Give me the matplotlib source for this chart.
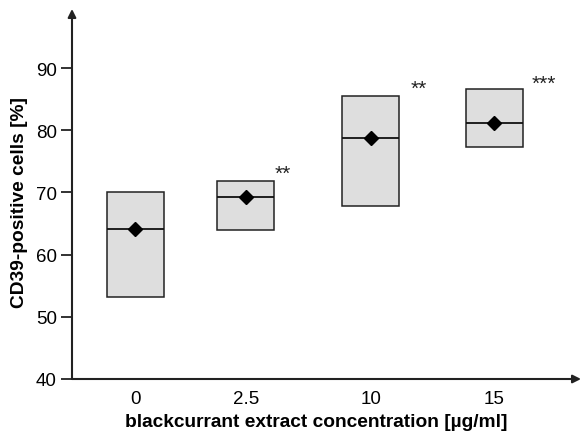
import matplotlib
matplotlib.use("Agg")
import matplotlib.pyplot as plt

plt.rcParams['font.family'] = ['Liberation Sans', 'DejaVu Sans']

categories = ["0", "2.5", "10", "15"]
q1 = [53.2, 63.9, 67.8, 77.3]
q3 = [70.0, 71.8, 85.5, 86.7]
median = [64.1, 69.2, 78.8, 81.2]
mean = [64.1, 69.2, 78.7, 81.2]
stars = ["", "**", "**", "***"]
star_y = [None, 73.1, 86.8, 87.6]

positions = [0, 0.92, 1.96, 2.99]
star_dx = [0, 0.24, 0.33, 0.31]

fig = plt.figure(figsize=(5.82, 4.35), dpi=100)
ax = fig.add_axes([72/582, 55/435, (581-72)/582, (380-10)/435])

stats = []
for i in range(len(categories)):
    stats.append(dict(med=median[i], q1=q1[i], q3=q3[i], mean=mean[i],
                      whislo=q1[i], whishi=q3[i], fliers=[], label=categories[i]))

ax.bxp(stats, positions=positions, widths=0.475, patch_artist=True,
       showmeans=True, showcaps=False, showfliers=False,
       boxprops=dict(facecolor='#dedede', edgecolor='#222222', linewidth=1.1),
       medianprops=dict(color='#111111', linewidth=1.3),
       whiskerprops=dict(linewidth=0),
       meanprops=dict(marker='D', markerfacecolor='black', markeredgecolor='black', markersize=7))

for i, s in enumerate(stars):
    if s:
        ax.text(positions[i] + star_dx[i], star_y[i], s, ha='left', va='center',
                fontsize=15, color='#222222')

ax.set_xlim(-0.529, 3.7125)
ax.set_ylim(40, 99.5)
ax.set_yticks([40, 50, 60, 70, 80, 90])
ax.set_xticks(positions)
ax.set_xticklabels(categories)
ax.tick_params(axis='y', direction='out', length=8, width=1.3, labelsize=13.5, pad=3, color='#222222')
ax.tick_params(axis='x', length=0, labelsize=13.5, pad=8)

for sp in ['top', 'right', 'left', 'bottom']:
    ax.spines[sp].set_visible(False)

# axis arrows
ax.annotate('', xy=(0, 1.0), xycoords='axes fraction', xytext=(0, 0), textcoords='axes fraction',
            arrowprops=dict(arrowstyle='-|>', color='#222222', lw=1.5, mutation_scale=12, shrinkA=0, shrinkB=0))
ax.annotate('', xy=(1.0, 0), xycoords='axes fraction', xytext=(0, 0), textcoords='axes fraction',
            arrowprops=dict(arrowstyle='-|>', color='#222222', lw=1.5, mutation_scale=12, shrinkA=0, shrinkB=0))

ax.set_ylabel("CD39-positive cells [%]", fontsize=13.8, fontweight='bold')
ax.set_xlabel("blackcurrant extract concentration [µg/ml]", fontsize=13.8, fontweight='bold')
ax.yaxis.set_label_coords(-0.086, 0.48)
ax.xaxis.set_label_coords(0.48, -0.093)

fig.savefig("out.png", dpi=100)
